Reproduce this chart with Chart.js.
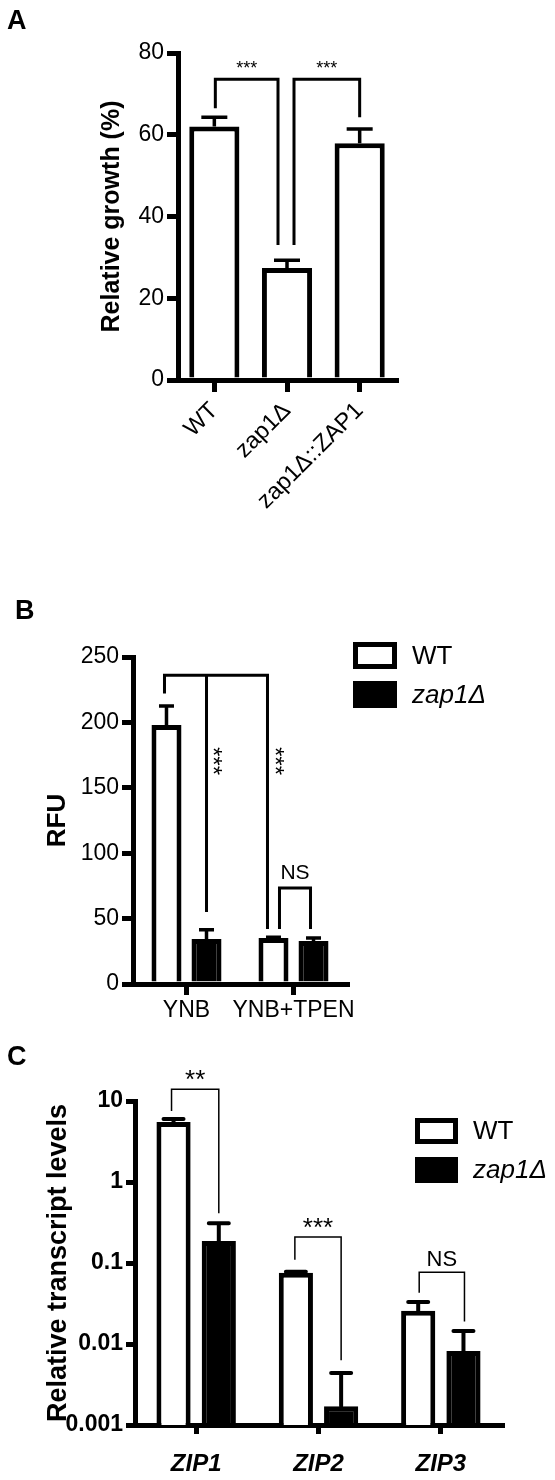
<!DOCTYPE html>
<html>
<head>
<meta charset="utf-8">
<script src="https://cdn.jsdelivr.net/npm/chart.js@4.4.1/dist/chart.umd.min.js"></script>
<style>
  html, body { margin: 0; padding: 0; background: #fff; }
  #page { position: relative; width: 555px; height: 1480px; }
  .panel { position: absolute; left: 0; width: 555px; }
  canvas { display: block; }
</style>
</head>
<body>
<div id="page">
  <div class="panel" style="top:0;height:560px"><canvas id="chartA" width="555" height="560"></canvas></div>
  <div class="panel" style="top:560px;height:470px"><canvas id="chartB" width="555" height="470"></canvas></div>
  <div class="panel" style="top:1030px;height:450px"><canvas id="chartC" width="555" height="450"></canvas></div>
</div>
<script>
// Panel A - relative growth
const growthLabels = ["WT", "zap1Δ", "zap1Δ::ZAP1"];
const growthMeans = [62, 27.4, 57.9];
const growthErr = [2.3, 1.9, 3.5];
const growthTicks = [0, 20, 40, 60, 80];

// Panel B - RFU
const rfuLabels = ["YNB", "YNB+TPEN"];
const rfuWT = [198, 35.2];
const rfuWTErr = [14.5, 0.5];
const rfuZap1 = [34.4, 32.9];
const rfuZap1Err = [7, 2.3];
const rfuTicks = [0, 50, 100, 150, 200, 250];

// Panel C - transcript levels (log)
const zipLabels = ["ZIP1", "ZIP2", "ZIP3"];
const zipWT = [5.5, 0.076, 0.0257];
const zipWTErr = [0.5, 0.002, 0.0073];
const zipZap1 = [0.187, 0.0017, 0.0082];
const zipZap1Err = [0.123, 0.0027, 0.0063];
const zipTicks = [0.001, 0.01, 0.1, 1, 10];
const zipTickLabels = ["0.001", "0.01", "0.1", "1", "10"];

// significance brackets (leg ends / tops in data units)
const sigA = [
    { legs: [{ ds: 0, i: 0, dx: 1, end: 66.5 }, { ds: 0, i: 1, dx: -9, end: 33 }], top: 73.6, text: "***", lift: 10 },
    { legs: [{ ds: 0, i: 1, dx: 7, end: 33 }, { ds: 0, i: 2, dx: 0, end: 64.3 }], top: 73.6, text: "***", lift: 10 }
];
const sigB = [
    { legs: [{ ds: 0, i: 0, dx: -2, end: 222 }, { ds: 1, i: 0, dx: 0, end: 55, text: "***", tdx: 5 }, { ds: 0, i: 1, dx: -6, end: 42, text: "***", tdx: 6 }], top: 236, textAt: 170.5 },
    { legs: [{ ds: 0, i: 1, dx: 6, end: 42 }, { ds: 1, i: 1, dx: -3, end: 42 }], top: 73.4, text: "NS", lift: 15 }
];
const sigC = [
    { legs: [{ ds: 0, i: 0, dx: -2, end: 7.5 }, { ds: 1, i: 0, dx: 0, end: 0.41 }], top: 14, text: "**", lift: 8 },
    { legs: [{ ds: 0, i: 1, dx: -1, end: 0.11 }, { ds: 1, i: 1, dx: 0, end: 0.0063 }], top: 0.21, text: "***", lift: 8 },
    { legs: [{ ds: 0, i: 2, dx: 1, end: 0.043 }, { ds: 1, i: 2, dx: 1, end: 0.019 }], top: 0.077, text: "NS", lift: 12 }
];

const FONT = "'Liberation Sans', Arial, Helvetica, sans-serif";

const errorBars = {
    id: "errorBars",
    afterDatasetsDraw(chart, args, opts) {
        const ctx = chart.ctx;
        const y = chart.scales.y;
        chart.data.datasets.forEach((ds, di) => {
            chart.getDatasetMeta(di).data.forEach((bar, i) => {
                const top = y.getPixelForValue(ds.data[i] + ds.errors[i]);
                ctx.save();
                ctx.strokeStyle = "#000";
                ctx.lineWidth = opts.width;
                ctx.lineCap = opts.cap || "butt";
                ctx.beginPath();
                ctx.moveTo(bar.x, bar.y);
                ctx.lineTo(bar.x, top);
                ctx.moveTo(bar.x - opts.capWidth / 2, top);
                ctx.lineTo(bar.x + opts.capWidth / 2, top);
                ctx.stroke();
                ctx.restore();
            });
        });
    }
};

const brackets = {
    id: "brackets",
    afterDraw(chart, args, opts) {
        const ctx = chart.ctx;
        const y = chart.scales.y;
        opts.items.forEach(b => {
            const xs = b.legs.map(l => chart.getDatasetMeta(l.ds).data[l.i].x + l.dx);
            const ends = b.legs.map(l => y.getPixelForValue(l.end));
            const yTop = y.getPixelForValue(b.top);
            const n = xs.length;
            ctx.save();
            ctx.strokeStyle = "#000";
            ctx.lineWidth = opts.lineWidth;
            ctx.lineJoin = "miter";
            ctx.beginPath();
            ctx.moveTo(xs[0], ends[0]);
            ctx.lineTo(xs[0], yTop);
            ctx.lineTo(xs[n - 1], yTop);
            ctx.lineTo(xs[n - 1], ends[n - 1]);
            for (let k = 1; k < n - 1; k++) {
                ctx.moveTo(xs[k], yTop);
                ctx.lineTo(xs[k], ends[k]);
            }
            ctx.stroke();

            ctx.fillStyle = "#000";
            ctx.textAlign = "center";
            ctx.textBaseline = "middle";
            if (b.text) {
                ctx.font = (b.text === "NS" ? opts.nsSize : opts.starSize) + "px " + FONT;
                ctx.fillText(b.text, (xs[0] + xs[n - 1]) / 2, yTop - b.lift);
            }
            b.legs.forEach((l, k) => {
                if (!l.text) return;
                ctx.save();
                ctx.font = opts.starSize + "px " + FONT;
                ctx.translate(xs[k] + l.tdx, y.getPixelForValue(b.textAt));
                ctx.rotate(Math.PI / 2);
                ctx.fillText(l.text, 0, 0);
                ctx.restore();
            });
            ctx.restore();
        });
    }
};

const boxLegend = {
    id: "boxLegend",
    afterDraw(chart, args, opts) {
        if (!opts.display) return;
        const ctx = chart.ctx;
        chart.data.datasets.forEach((ds, i) => {
            const x = opts.x;
            const y = opts.y + i * opts.step;
            ctx.save();
            ctx.fillStyle = "#000";
            ctx.fillRect(x, y, opts.boxW, opts.boxH);
            ctx.fillStyle = ds.backgroundColor;
            ctx.fillRect(x + 5, y + 5, opts.boxW - 10, opts.boxH - 10);
            ctx.fillStyle = "#000";
            ctx.font = (ds.legendItalic ? "italic " : "") + opts.size + "px " + FONT;
            ctx.textAlign = "left";
            ctx.textBaseline = "middle";
            ctx.fillText(ds.label, opts.textX, y + opts.boxH / 2 + 1);
            ctx.restore();
        });
    }
};

const panelLetter = {
    id: "panelLetter",
    afterDraw(chart, args, opts) {
        const ctx = chart.ctx;
        ctx.save();
        ctx.fillStyle = "#000";
        ctx.font = "bold 27px " + FONT;
        ctx.textAlign = "left";
        ctx.textBaseline = "alphabetic";
        ctx.fillText(opts.letter, opts.x, opts.y);
        ctx.restore();
    }
};

function axisBase(tickLength) {
    return {
        grid: { display: true, drawOnChartArea: false, offset: false, color: "#000", lineWidth: 5, tickLength: tickLength },
        border: { display: true, color: "#000", width: 5 }
    };
}

// ---------- A ----------
new Chart(document.getElementById("chartA"), {
    type: "bar",
    data: {
        labels: growthLabels,
        datasets: [{
            label: "Relative growth",
            data: growthMeans,
            errors: growthErr,
            backgroundColor: "#fff",
            borderColor: "#000",
            borderWidth: 5,
            borderSkipped: "start",
            barPercentage: 0.69,
            categoryPercentage: 1
        }]
    },
    options: {
        responsive: false,
        animation: false,
        layout: { padding: { left: 0, top: 53, right: 159, bottom: 0 } },
        plugins: {
            legend: { display: false },
            tooltip: { enabled: false },
            errorBars: { width: 3.5, capWidth: 26 },
            brackets: { items: sigA, lineWidth: 3, starSize: 18, nsSize: 21 },
            boxLegend: { display: false },
            panelLetter: { letter: "A", x: 7, y: 29 }
        },
        scales: {
            x: Object.assign(axisBase(12), {
                ticks: { color: "#000", font: { family: FONT, size: 23.5 }, minRotation: 45, maxRotation: 45, padding: 5, autoSkip: false },
                afterFit: s => { s.height = 180; }
            }),
            y: Object.assign(axisBase(11), {
                min: 0,
                max: 80,
                afterBuildTicks: s => { s.ticks = growthTicks.map(v => ({ value: v })); },
                ticks: { color: "#000", font: { family: FONT, size: 23 }, padding: 3 },
                title: { display: true, text: "Relative growth (%)", color: "#000", font: { family: FONT, size: 25, weight: "bold" }, padding: { top: 97, bottom: 0 } },
                afterFit: s => { s.width = 178; }
            })
        }
    },
    plugins: [errorBars, brackets, boxLegend, panelLetter]
});

// ---------- B ----------
new Chart(document.getElementById("chartB"), {
    type: "bar",
    data: {
        labels: rfuLabels,
        datasets: [{
            label: "WT",
            data: rfuWT,
            errors: rfuWTErr,
            backgroundColor: "#fff",
            borderColor: "#000",
            borderWidth: 5,
            borderSkipped: "start",
            barPercentage: 0.75,
            categoryPercentage: 0.748
        }, {
            label: "zap1Δ",
            legendItalic: true,
            data: rfuZap1,
            errors: rfuZap1Err,
            backgroundColor: "#000",
            borderColor: "#000",
            borderWidth: 5,
            borderSkipped: "start",
            barPercentage: 0.75,
            categoryPercentage: 0.748
        }]
    },
    options: {
        responsive: false,
        animation: false,
        layout: { padding: { left: 0, top: 97, right: 208, bottom: 0 } },
        plugins: {
            legend: { display: false },
            tooltip: { enabled: false },
            errorBars: { width: 3.5, capWidth: 15 },
            brackets: { items: sigB, lineWidth: 3, starSize: 24, nsSize: 21 },
            boxLegend: { display: true, x: 353, y: 82, step: 39, boxW: 44, boxH: 27, textX: 412, size: 26 },
            panelLetter: { letter: "B", x: 15, y: 59 }
        },
        scales: {
            x: Object.assign(axisBase(11), {
                ticks: { color: "#000", font: { family: FONT, size: 23 }, maxRotation: 0, padding: 2, autoSkip: false },
                afterFit: s => { s.height = 46; }
            }),
            y: Object.assign(axisBase(11), {
                min: 0,
                max: 250,
                afterBuildTicks: s => { s.ticks = rfuTicks.map(v => ({ value: v })); },
                ticks: { color: "#000", font: { family: FONT, size: 23 }, padding: 3 },
                title: { display: true, text: "RFU", color: "#000", font: { family: FONT, size: 26, weight: "bold" }, padding: { top: 42, bottom: 0 } },
                afterFit: s => { s.width = 133; }
            })
        }
    },
    plugins: [errorBars, brackets, boxLegend, panelLetter]
});

// ---------- C ----------
new Chart(document.getElementById("chartC"), {
    type: "bar",
    data: {
        labels: zipLabels,
        datasets: [{
            label: "WT",
            data: zipWT,
            errors: zipWTErr,
            backgroundColor: "#fff",
            borderColor: "#000",
            borderWidth: 5,
            borderSkipped: "start",
            barPercentage: 0.755,
            categoryPercentage: 0.74
        }, {
            label: "zap1Δ",
            legendItalic: true,
            data: zipZap1,
            errors: zipZap1Err,
            backgroundColor: "#000",
            borderColor: "#000",
            borderWidth: 5,
            borderSkipped: "start",
            barPercentage: 0.755,
            categoryPercentage: 0.74
        }]
    },
    options: {
        responsive: false,
        animation: false,
        layout: { padding: { left: 0, top: 71, right: 53, bottom: 0 } },
        plugins: {
            legend: { display: false },
            tooltip: { enabled: false },
            errorBars: { width: 4, capWidth: 20, cap: "round" },
            brackets: { items: sigC, lineWidth: 1.5, starSize: 26, nsSize: 22 },
            boxLegend: { display: true, x: 415, y: 88, step: 39, boxW: 43, boxH: 26, textX: 473, size: 26 },
            panelLetter: { letter: "C", x: 7, y: 35 }
        },
        scales: {
            x: Object.assign(axisBase(9), {
                ticks: { color: "#000", font: { family: FONT, size: 24, weight: "bold", style: "italic" }, maxRotation: 0, padding: 16, autoSkip: false },
                afterFit: s => { s.height = 55; }
            }),
            y: Object.assign(axisBase(9), {
                type: "logarithmic",
                min: 0.001,
                max: 10,
                afterBuildTicks: s => { s.ticks = zipTicks.map(v => ({ value: v })); },
                ticks: {
                    color: "#000",
                    font: { family: FONT, size: 23, weight: "bold" },
                    padding: 3,
                    callback: (v, i) => zipTickLabels[i]
                },
                title: { display: true, text: "Relative transcript levels", color: "#000", font: { family: FONT, size: 27, weight: "bold" }, padding: { top: 42, bottom: 0 } },
                afterFit: s => { s.width = 135; }
            })
        }
    },
    plugins: [errorBars, brackets, boxLegend, panelLetter]
});
</script>
</body>
</html>
